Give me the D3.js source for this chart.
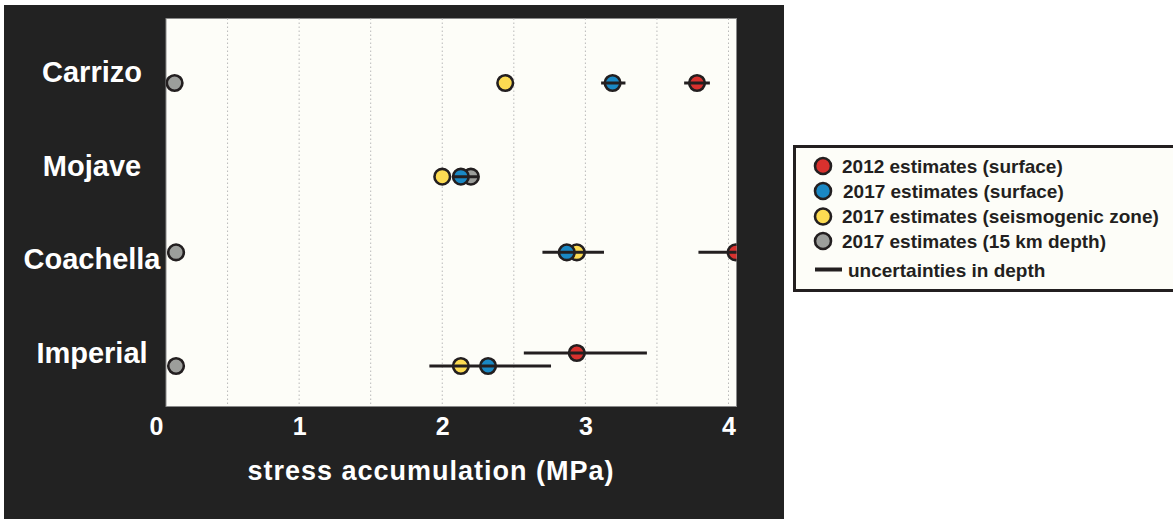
<!DOCTYPE html>
<html>
<head>
<meta charset="utf-8">
<script src="https://cdn.jsdelivr.net/npm/d3@7"></script>
<style>
  body { margin: 0; background: #fff; }
  svg { display: block; font-family: "Liberation Sans", Arial, sans-serif; font-weight: bold; }
</style>
</head>
<body>
<div class="chart"></div>
<script>
// data (MPa)
const categories = ["Carrizo", "Mojave", "Coachella", "Imperial"];
const surface2012 = [3.78, null, 4.05, 2.94];
const surface2017 = [3.19, 2.13, 2.87, 2.32];
const seismo2017 = [2.44, 2.00, 2.94, 2.13];
const depth15km2017 = [0.13, 2.20, 0.14, 0.14];
// uncertainty ranges in depth
const err2012Low = [3.69, null, 3.79, 2.57];
const err2012High = [3.87, null, 4.20, 3.43];
const err2017Low = [3.11, 2.08, 2.70, 1.91];
const err2017High = [3.28, 2.25, 3.13, 2.76];
const xTicks = [0, 1, 2, 3, 4];
const legendLabels = [
    "2012 estimates (surface)",
    "2017 estimates (surface)",
    "2017 estimates (seismogenic zone)",
    "2017 estimates (15 km depth)"
];

const w = 1173, h = 519;
const plot = { left: 166, right: 736.5, top: 18.5, bottom: 406.5 };
const ink = "#231f20";
const colors = { red: "#d8312e", blue: "#1a88c4", yellow: "#fcdb52", gray: "#9c9e9b" };

const svg = d3.select("div.chart")
    .append("svg")
    .attr("width", w)
    .attr("height", h);

// dark panel
svg.append("rect")
    .attr("x", 4).attr("y", 5)
    .attr("width", 780).attr("height", 514)
    .attr("fill", "#222222");

// scales
const xScale = d3.scaleLinear().domain([0, 4]).range([156, 728.5]);
const yScale = d3.scalePoint().domain(categories).range([72, 353]);
// small vertical offsets of the markers inside each row
const rowShift = { Carrizo: 11, Mojave: 11, Coachella: -7, Imperial: 13 };
const yMark = (c) => yScale(c) + rowShift[c];

// plot area
svg.append("rect")
    .attr("x", plot.left).attr("y", plot.top)
    .attr("width", plot.right - plot.left)
    .attr("height", plot.bottom - plot.top)
    .attr("fill", "#fdfdf8")
    .attr("stroke", "#8a8a8a")
    .attr("stroke-width", 1);

svg.append("clipPath").attr("id", "clip")
    .append("rect")
    .attr("x", plot.left).attr("y", plot.top)
    .attr("width", plot.right - plot.left)
    .attr("height", plot.bottom - plot.top);

// dotted grid every 0.5 MPa
svg.append("g")
    .selectAll("line")
    .data(d3.range(0.5, 4.01, 0.5))
    .enter()
    .append("line")
    .attr("x1", d => xScale(d)).attr("x2", d => xScale(d))
    .attr("y1", plot.top).attr("y2", plot.bottom)
    .attr("stroke", "#b9b9b9")
    .attr("stroke-width", 1)
    .attr("stroke-dasharray", "1.5,2.5");

// x axis
const xAxis = d3.axisBottom(xScale).tickValues(xTicks).tickSize(0).tickPadding(0).tickFormat(d3.format("d"));
const gx = svg.append("g")
    .attr("transform", "translate(0," + 435 + ")")
    .call(xAxis);
gx.select(".domain").remove();
gx.selectAll("text")
    .attr("fill", "#fff")
    .attr("dy", 0)
    .style("font-size", "25px")
    .style("font-weight", "bold")
    .style("font-family", "'Liberation Sans', Arial, sans-serif");

svg.append("text")
    .attr("x", 431).attr("y", 480)
    .attr("text-anchor", "middle")
    .attr("fill", "#fff")
    .style("font-size", "27px")
    .style("letter-spacing", "1px")
    .text("stress accumulation (MPa)");

// category labels
svg.append("g")
    .selectAll("text")
    .data(categories)
    .enter()
    .append("text")
    .attr("x", 92)
    .attr("y", d => yScale(d) + 10)
    .attr("text-anchor", "middle")
    .attr("fill", "#fff")
    .style("font-size", "29px")
    .text(d => d);

// markers
const marks = svg.append("g").attr("clip-path", "url(#clip)");
const r = 7.8;

function drawSeries(values, color, shiftFn) {
    const pts = categories.map((c, i) => ({ c, v: values[i] })).filter(d => d.v != null);
    marks.append("g")
        .selectAll("circle")
        .data(pts)
        .enter()
        .append("circle")
        .attr("cx", d => xScale(d.v))
        .attr("cy", d => shiftFn(d.c))
        .attr("r", r)
        .attr("fill", color)
        .attr("stroke", ink)
        .attr("stroke-width", 2.6);
}

function drawErrors(lo, hi, shiftFn) {
    const rows = categories.map((c, i) => ({ c, lo: lo[i], hi: hi[i] })).filter(d => d.lo != null);
    marks.append("g")
        .selectAll("line")
        .data(rows)
        .enter()
        .append("line")
        .attr("x1", d => xScale(d.lo))
        .attr("x2", d => xScale(d.hi))
        .attr("y1", d => shiftFn(d.c))
        .attr("y2", d => shiftFn(d.c))
        .attr("stroke", ink)
        .attr("stroke-width", 3);
}

const yRed = (c) => c === "Imperial" ? yScale(c) : yMark(c);

drawSeries(depth15km2017, colors.gray, yMark);
drawSeries(seismo2017, colors.yellow, yMark);
drawSeries(surface2017, colors.blue, yMark);
drawSeries(surface2012, colors.red, yRed);
drawErrors(err2017Low, err2017High, yMark);
drawErrors(err2012Low, err2012High, yRed);

// legend
const legend = svg.append("g");
legend.append("rect")
    .attr("x", 794.5).attr("y", 146.5)
    .attr("width", 390).attr("height", 144)
    .attr("fill", "#fdfdf8")
    .attr("stroke", ink)
    .attr("stroke-width", 3);

const legendColors = [colors.red, colors.blue, colors.yellow, colors.gray];
const legendY = [166, 191, 216.5, 241];
legendLabels.forEach((label, i) => {
    legend.append("circle")
        .attr("cx", 823).attr("cy", legendY[i])
        .attr("r", 8)
        .attr("fill", legendColors[i])
        .attr("stroke", ink)
        .attr("stroke-width", 2.6);
    legend.append("text")
        .attr("x", i === 1 ? 843 : 842)
        .attr("y", legendY[i] + 6.5)
        .attr("fill", ink)
        .style("font-size", "19px")
        .text(label);
});
legend.append("line")
    .attr("x1", 815).attr("x2", 842)
    .attr("y1", 269.5).attr("y2", 269.5)
    .attr("stroke", ink)
    .attr("stroke-width", 4);
legend.append("text")
    .attr("x", 848).attr("y", 276.5)
    .attr("fill", ink)
    .style("font-size", "19px")
    .text("uncertainties in depth");
</script>
</body>
</html>
